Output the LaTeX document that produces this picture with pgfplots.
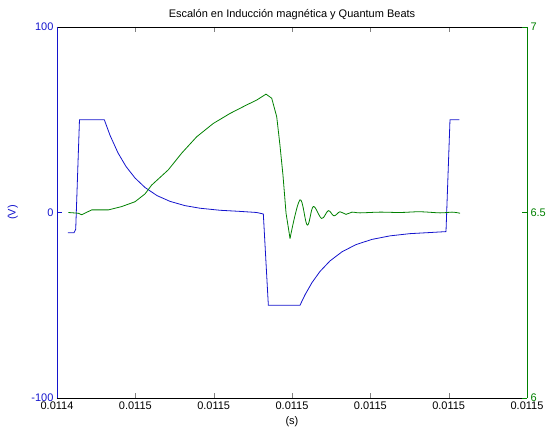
\documentclass[border=0pt]{standalone}
\usepackage{pgfplots}
\pgfplotsset{compat=1.18}
\usepackage{fontspec}
\setmainfont{Liberation Sans}
\definecolor{mblue}{RGB}{20,20,205}
\definecolor{mgreen}{RGB}{0,128,0}
\begin{document}
\begin{tikzpicture}
\pgfplotsset{every axis/.append style={
  scale only axis, width=470pt, height=371pt,
  xmin=0, xmax=6,
  tick align=inside, major tick length=5pt,
  tick label style={font=\fontsize{11}{13}\selectfont},
  label style={font=\fontsize{11}{13}\selectfont},
  /pgf/number format/assume math mode=true,
}}
% left axis: voltage step
\begin{axis}[
  ymin=-100, ymax=100,
  axis y line*=left,
  ytick={-100,0,100}, yticklabels={-100,0,100},
  yticklabel style={text=mblue},
  y axis line style={mblue},
  ytick style={mblue},
  xtick={0,1,2,3,4,5,6},
  xticklabels={0.0114,0.0115,0.0115,0.0115,0.0115,0.0115,0.0115},
  xlabel={(s)}, ylabel={(V)},
  ylabel style={text=mblue, at={(axis description cs:-0.094,0.5)}, anchor=center},
  title={Escalón en Inducción magnética y Quantum Beats},
  title style={font=\fontsize{11}{13}\selectfont, yshift=-2pt},
]
\addplot[mblue, line width=0.8pt] coordinates {
  (0.140,-10.9) (0.217,-10.9) (0.239,-9) (0.287,50) (0.604,50)
  (0.677,41.6) (0.779,32.1) (0.881,24.8) (0.996,18.6) (1.123,13.5)
  (1.277,9.1) (1.443,6.0) (1.634,3.7) (1.826,2.3) (2.081,1.2)
  (2.336,0.6) (2.550,0.0) (2.634,-0.8) (2.698,-50) (3.102,-50)
  (3.166,-44.4) (3.255,-37.8) (3.357,-31.8) (3.485,-26.1) (3.638,-21.2)
  (3.817,-17.3) (4.021,-14.5) (4.251,-12.6) (4.506,-11.4) (4.762,-10.8)
  (4.966,-10.3) (5.017,50) (5.136,50)
};
\end{axis}
% right axis: quantum beats
\begin{axis}[
  ymin=6, ymax=7,
  axis y line*=right, axis x line=none,
  ytick={6,6.5,7}, yticklabels={6,6.5,7},
  yticklabel style={text=mgreen},
  y axis line style={mgreen},
  ytick style={mgreen},
]
\addplot[mgreen, line width=0.8pt] coordinates {
  (0.144,6.500) (0.272,6.498) (0.315,6.494) (0.443,6.507) (0.655,6.507)
  (0.826,6.516) (0.996,6.529) (1.123,6.550) (1.209,6.574) (1.421,6.615)
  (1.592,6.660) (1.783,6.704) (1.995,6.740) (2.209,6.767) (2.422,6.790)
  (2.549,6.803) (2.668,6.819) (2.741,6.808) (2.805,6.758) (2.847,6.680)
  (2.885,6.600) (2.924,6.498) (2.975,6.430)
};
\addplot[mgreen, line width=0.8pt, smooth, tension=0.6] coordinates {
  (2.975,6.430) (3.102,6.534) (3.195,6.466) (3.272,6.516) (3.379,6.484)
  (3.464,6.505) (3.536,6.491) (3.613,6.502) (3.689,6.495) (3.766,6.501)
  (3.868,6.499) (4.124,6.501) (4.379,6.500) (4.634,6.502) (4.890,6.499)
  (5.043,6.501) (5.145,6.498)
};
\end{axis}
\pgfresetboundingbox
\path[use as bounding box] (-57pt,-35pt) rectangle (489pt,398pt);
\end{tikzpicture}
\end{document}
